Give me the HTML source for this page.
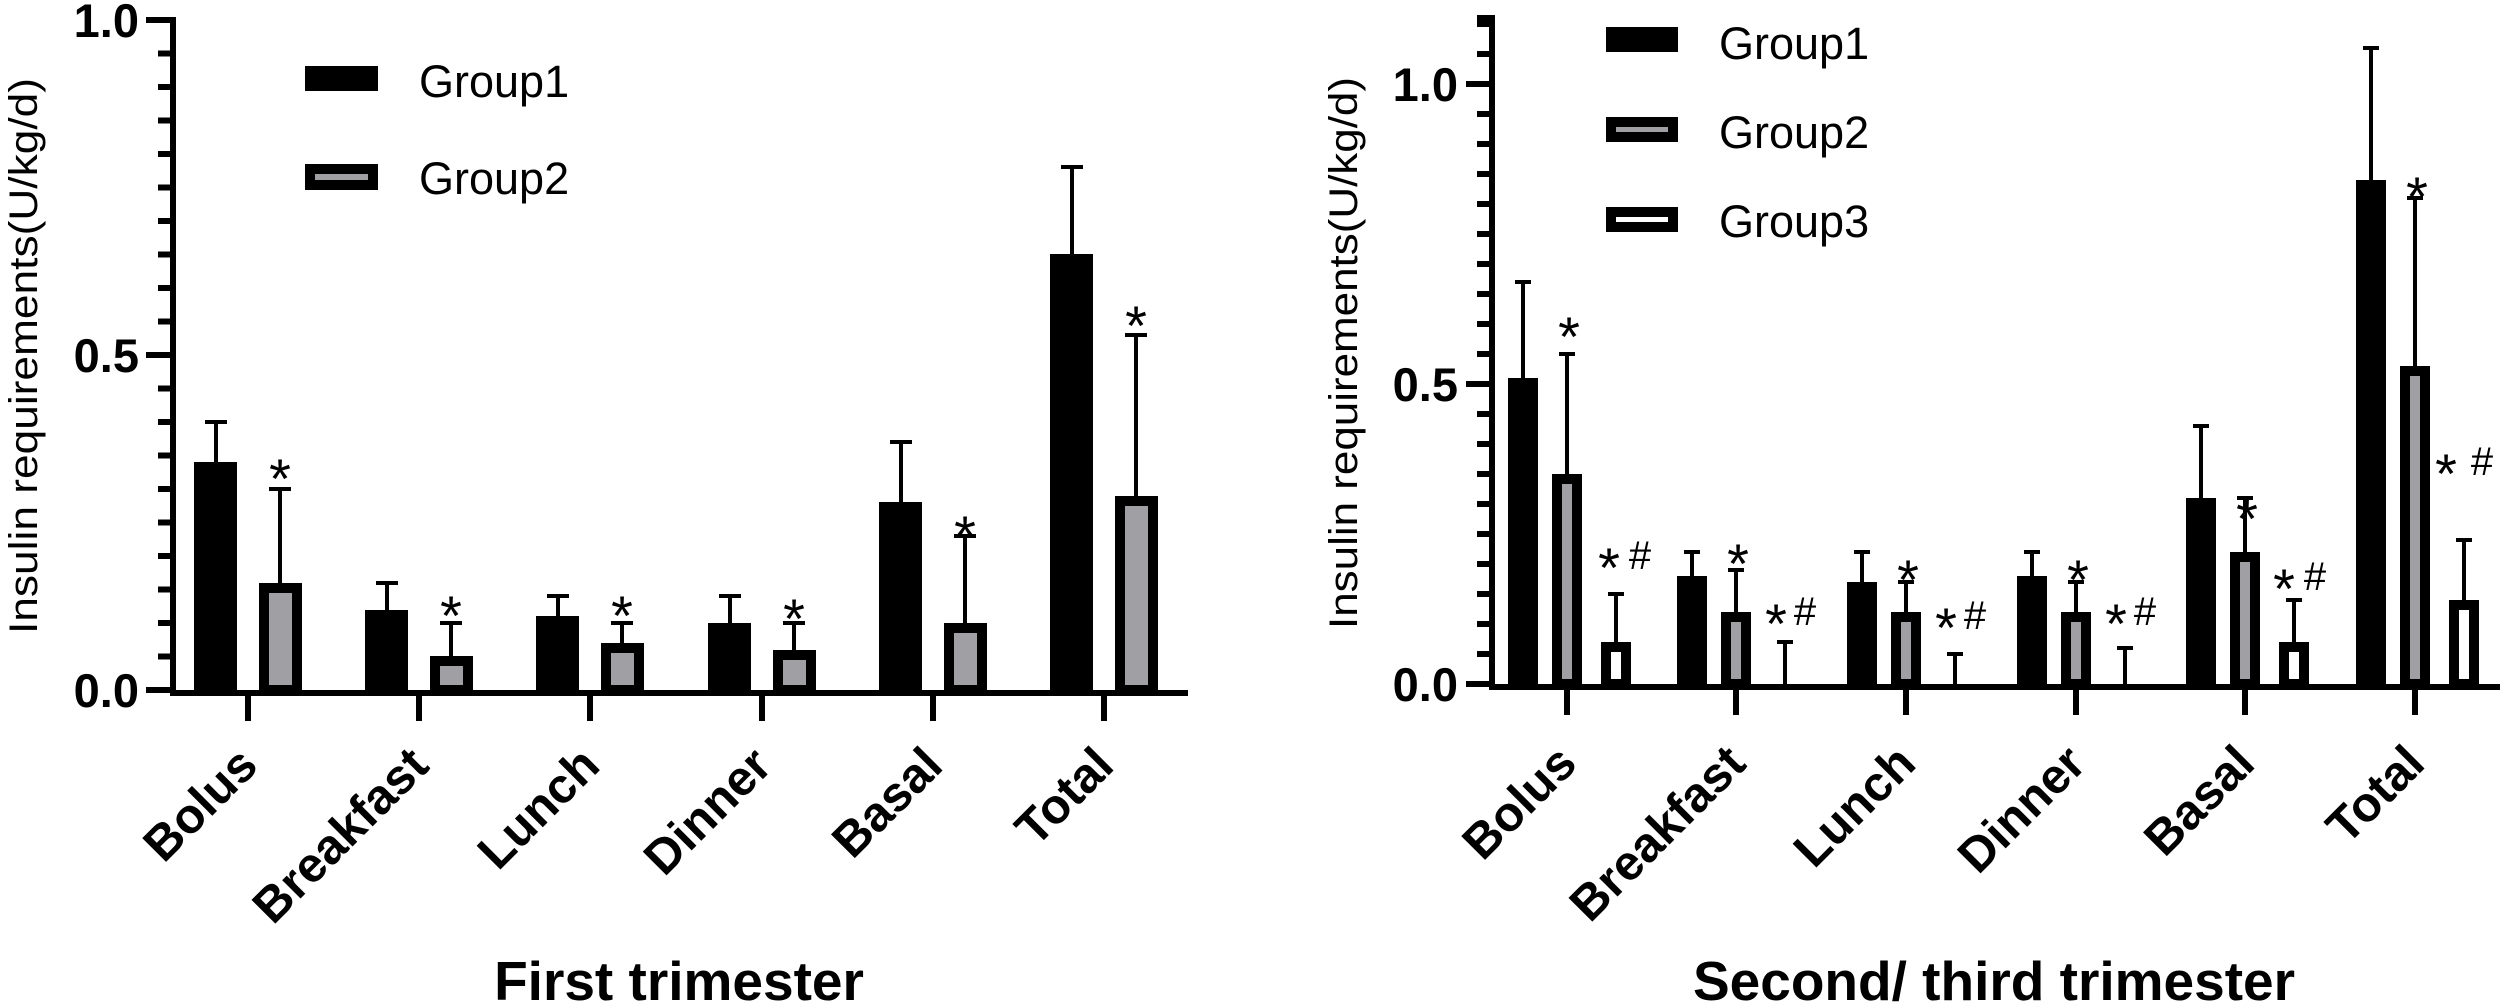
<!DOCTYPE html>
<html><head><meta charset="utf-8"><style>
html,body{margin:0;padding:0;background:#fff;}
svg{display:block;}
text{font-family:"Liberation Sans",Arial,sans-serif;fill:#000;}
.b{font-weight:bold;}
</style></head><body>
<svg width="2500" height="1004" viewBox="0 0 2500 1004" xmlns="http://www.w3.org/2000/svg">
<!-- LEFT CHART -->
<g stroke="#000" stroke-width="6" fill="none">
<line x1="173" y1="17" x2="173" y2="696"/>
<line x1="170" y1="693" x2="1188" y2="693"/>
<line x1="248" y1="693" x2="248" y2="721"/><line x1="419" y1="693" x2="419" y2="721"/><line x1="590" y1="693" x2="590" y2="721"/><line x1="762" y1="693" x2="762" y2="721"/><line x1="933" y1="693" x2="933" y2="721"/><line x1="1104" y1="693" x2="1104" y2="721"/>
<line x1="146" y1="20" x2="173" y2="20"/><line x1="146" y1="355" x2="173" y2="355"/><line x1="146" y1="690" x2="173" y2="690"/>
<line x1="158" y1="53.5" x2="173" y2="53.5"/><line x1="158" y1="87" x2="173" y2="87"/><line x1="158" y1="120.5" x2="173" y2="120.5"/><line x1="158" y1="154" x2="173" y2="154"/><line x1="158" y1="187.5" x2="173" y2="187.5"/><line x1="158" y1="221" x2="173" y2="221"/><line x1="158" y1="254.5" x2="173" y2="254.5"/><line x1="158" y1="288" x2="173" y2="288"/><line x1="158" y1="321.5" x2="173" y2="321.5"/>
<line x1="158" y1="388.5" x2="173" y2="388.5"/><line x1="158" y1="422" x2="173" y2="422"/><line x1="158" y1="455.5" x2="173" y2="455.5"/><line x1="158" y1="489" x2="173" y2="489"/><line x1="158" y1="522.5" x2="173" y2="522.5"/><line x1="158" y1="556" x2="173" y2="556"/><line x1="158" y1="589.5" x2="173" y2="589.5"/><line x1="158" y1="623" x2="173" y2="623"/><line x1="158" y1="656.5" x2="173" y2="656.5"/>
</g>
<g class="b" font-size="47" text-anchor="end">
<text x="139" y="37">1.0</text><text x="139" y="372">0.5</text><text x="139" y="707">0.0</text>
</g>
<text x="37" y="356" font-size="40" text-anchor="middle" transform="rotate(-90 37 356)" textLength="556" lengthAdjust="spacingAndGlyphs">Insulin requirements(U/kg/d)</text>
<!-- left legend -->
<rect x="305" y="66" width="73" height="25" fill="#000"/>
<rect x="310" y="169" width="63" height="16" fill="#a0a0a4" stroke="#000" stroke-width="10"/>
<text x="419" y="97" font-size="45">Group1</text>
<text x="419" y="194" font-size="45">Group2</text>
<!-- left bars -->
<g fill="#000">
<rect x="194" y="462" width="43" height="228"/>
<rect x="365" y="610" width="43" height="80"/>
<rect x="536" y="616" width="43" height="74"/>
<rect x="708" y="623" width="43" height="67"/>
<rect x="879" y="502" width="43" height="188"/>
<rect x="1050" y="254" width="43" height="436"/>
</g>
<g fill="#a0a0a4" stroke="#000" stroke-width="10">
<rect x="264" y="588" width="33" height="102"/>
<rect x="435" y="661" width="33" height="29"/>
<rect x="606" y="648" width="33" height="42"/>
<rect x="778" y="655" width="33" height="35"/>
<rect x="949" y="628" width="33" height="62"/>
<rect x="1120" y="501" width="33" height="189"/>
</g>
<g stroke="#000" stroke-width="4">
<path d="M216 462V422M205 422H227 M280 583V489M269 489H291"/>
<path d="M387 610V583M376 583H398 M451 656V623M440 623H462"/>
<path d="M558 616V596M547 596H569 M622 643V623M611 623H633"/>
<path d="M730 623V596M719 596H741 M794 650V623M783 623H805"/>
<path d="M901 502V442M890 442H912 M965 623V536M954 536H976"/>
<path d="M1072 254V167M1061 167H1083 M1136 496V335M1125 335H1147"/>
</g>
<g font-size="56" text-anchor="middle">
<text x="280" y="498">*</text><text x="451" y="635">*</text><text x="622" y="635">*</text><text x="794" y="638">*</text><text x="965" y="555">*</text><text x="1136" y="345">*</text>
</g>
<g class="b" font-size="49" text-anchor="end">
<text transform="translate(260 768) rotate(-45)">Bolus</text>
<text transform="translate(431 768) rotate(-45)">Breakfast</text>
<text transform="translate(602 768) rotate(-45)">Lunch</text>
<text transform="translate(774 768) rotate(-45)">Dinner</text>
<text transform="translate(945 768) rotate(-45)">Basal</text>
<text transform="translate(1116 768) rotate(-45)">Total</text>
</g>
<text class="b" x="679" y="1000" font-size="55" text-anchor="middle">First trimester</text>

<!-- RIGHT CHART -->
<g stroke="#000" stroke-width="6" fill="none">
<line x1="1492" y1="15" x2="1492" y2="690"/>
<line x1="1489" y1="687" x2="2500" y2="687"/>
<line x1="1567" y1="687" x2="1567" y2="715"/><line x1="1736" y1="687" x2="1736" y2="715"/><line x1="1906" y1="687" x2="1906" y2="715"/><line x1="2076" y1="687" x2="2076" y2="715"/><line x1="2245" y1="687" x2="2245" y2="715"/><line x1="2415" y1="687" x2="2415" y2="715"/>
<line x1="1466" y1="84" x2="1492" y2="84"/><line x1="1466" y1="384" x2="1492" y2="384"/><line x1="1466" y1="684" x2="1492" y2="684"/>
<line x1="1477" y1="18" x2="1492" y2="18"/><line x1="1477" y1="24" x2="1492" y2="24"/><line x1="1477" y1="54" x2="1492" y2="54"/>
<line x1="1477" y1="114" x2="1492" y2="114"/><line x1="1477" y1="144" x2="1492" y2="144"/><line x1="1477" y1="174" x2="1492" y2="174"/><line x1="1477" y1="204" x2="1492" y2="204"/><line x1="1477" y1="234" x2="1492" y2="234"/><line x1="1477" y1="264" x2="1492" y2="264"/><line x1="1477" y1="294" x2="1492" y2="294"/><line x1="1477" y1="324" x2="1492" y2="324"/><line x1="1477" y1="354" x2="1492" y2="354"/>
<line x1="1477" y1="414" x2="1492" y2="414"/><line x1="1477" y1="444" x2="1492" y2="444"/><line x1="1477" y1="474" x2="1492" y2="474"/><line x1="1477" y1="504" x2="1492" y2="504"/><line x1="1477" y1="534" x2="1492" y2="534"/><line x1="1477" y1="564" x2="1492" y2="564"/><line x1="1477" y1="594" x2="1492" y2="594"/><line x1="1477" y1="624" x2="1492" y2="624"/><line x1="1477" y1="654" x2="1492" y2="654"/>
</g>
<g class="b" font-size="47" text-anchor="end">
<text x="1458" y="101">1.0</text><text x="1458" y="401">0.5</text><text x="1458" y="701">0.0</text>
</g>
<text x="1357" y="353" font-size="40" text-anchor="middle" transform="rotate(-90 1357 353)" textLength="552" lengthAdjust="spacingAndGlyphs">Insulin requirements(U/kg/d)</text>
<!-- right legend -->
<rect x="1606" y="27" width="72" height="25" fill="#000"/>
<rect x="1611" y="122" width="62" height="15" fill="#a0a0a4" stroke="#000" stroke-width="10"/>
<rect x="1611" y="212" width="62" height="15" fill="#fff" stroke="#000" stroke-width="10"/>
<text x="1719" y="59" font-size="45">Group1</text>
<text x="1719" y="148" font-size="45">Group2</text>
<text x="1719" y="237" font-size="45">Group3</text>
<!-- right bars g1 -->
<g fill="#000">
<rect x="1508" y="378" width="30" height="306"/>
<rect x="1677" y="576" width="30" height="108"/>
<rect x="1847" y="582" width="30" height="102"/>
<rect x="2017" y="576" width="30" height="108"/>
<rect x="2186" y="498" width="30" height="186"/>
<rect x="2356" y="180" width="30" height="504"/>
</g>
<g fill="#a0a0a4" stroke="#000" stroke-width="10">
<rect x="1557" y="479" width="20" height="205"/>
<rect x="1726" y="617" width="20" height="67"/>
<rect x="1896" y="617" width="20" height="67"/>
<rect x="2066" y="617" width="20" height="67"/>
<rect x="2235" y="557" width="20" height="127"/>
<rect x="2405" y="371" width="20" height="313"/>
</g>
<g fill="#fff" stroke="#000" stroke-width="10">
<rect x="1606" y="647" width="20" height="37"/>
<rect x="2284" y="647" width="20" height="37"/>
<rect x="2454" y="605" width="20" height="79"/>
</g>
<g stroke="#000" stroke-width="4">
<path d="M1523 378V282M1515 282H1531 M1567 474V354M1559 354H1575 M1616 642V594M1608 594H1624"/>
<path d="M1692 576V552M1684 552H1700 M1736 612V570M1728 570H1744 M1785 684V642M1777 642H1793"/>
<path d="M1862 582V552M1854 552H1870 M1906 612V582M1898 582H1914 M1955 684V654M1947 654H1963"/>
<path d="M2032 576V552M2024 552H2040 M2076 612V582M2068 582H2084 M2125 684V648M2117 648H2133"/>
<path d="M2201 498V426M2193 426H2209 M2245 552V498M2237 498H2253 M2294 642V600M2286 600H2302"/>
<path d="M2371 180V48M2363 48H2379 M2415 366V198M2407 198H2423 M2464 600V540M2456 540H2472"/>
</g>
<g font-size="56" text-anchor="middle">
<text x="1569" y="356">*</text><text x="1738" y="583">*</text><text x="1908" y="599">*</text><text x="2078" y="599">*</text><text x="2247" y="538">*</text><text x="2417" y="216">*</text>
<text x="1609" y="587">*</text><text x="1776" y="643">*</text><text x="1946" y="647">*</text><text x="2116" y="643">*</text><text x="2284" y="608">*</text><text x="2446" y="493">*</text>
</g>
<g font-size="40" text-anchor="middle">
<text x="1640" y="569">#</text><text x="1805" y="625">#</text><text x="1975" y="629">#</text><text x="2145" y="625">#</text><text x="2315" y="590">#</text><text x="2482" y="475">#</text>
</g>
<g class="b" font-size="49" text-anchor="end">
<text transform="translate(1579 766) rotate(-45)">Bolus</text>
<text transform="translate(1748 766) rotate(-45)">Breakfast</text>
<text transform="translate(1918 766) rotate(-45)">Lunch</text>
<text transform="translate(2088 766) rotate(-45)">Dinner</text>
<text transform="translate(2257 766) rotate(-45)">Basal</text>
<text transform="translate(2427 766) rotate(-45)">Total</text>
</g>
<text class="b" x="1994" y="1000" font-size="55" text-anchor="middle">Second/ third trimester</text>
</svg>
</body></html>
